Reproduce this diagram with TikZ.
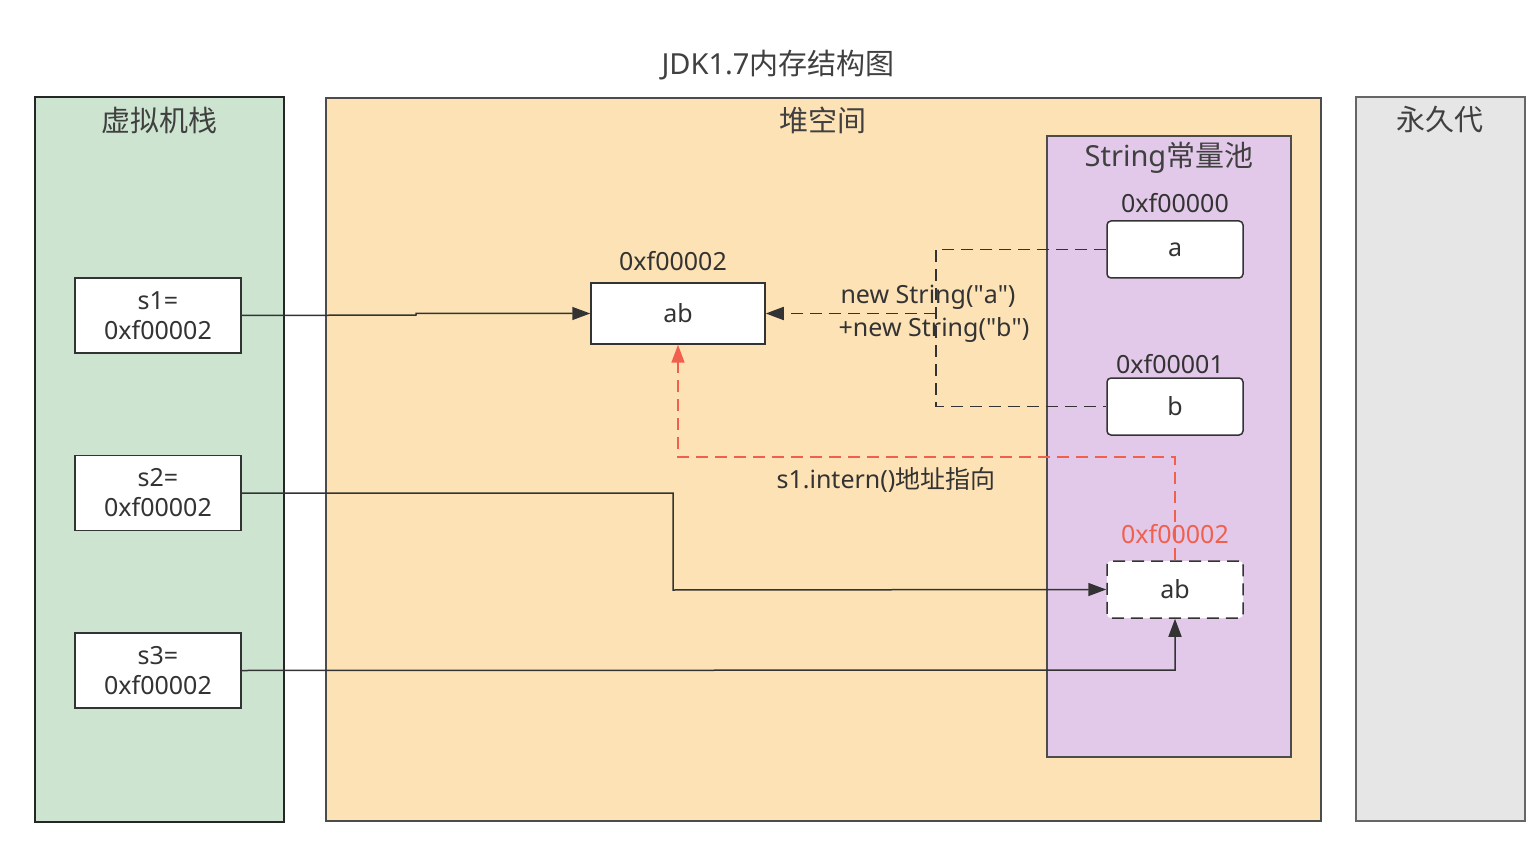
\documentclass[tikz,border=0pt]{standalone}
\usepackage{fontspec}
\setmainfont{Noto Sans}
\newfontfamily\cjk{Noto Sans CJK SC}
\usetikzlibrary{arrows.meta}
\definecolor{gfill}{HTML}{CDE5D0}
\definecolor{ofill}{HTML}{FDE2B5}
\definecolor{pfill}{HTML}{E3C9E9}
\definecolor{yfill}{HTML}{E6E6E6}
\definecolor{redl}{HTML}{F0604D}
\begin{document}
\begin{tikzpicture}[x=1pt,y=-1pt,
 lbl/.style={font=\fontsize{29}{31}\selectfont,text=black!75},
 txt/.style={font=\fontsize{25}{27}\selectfont,text=black!80},
 var/.style={draw=black!80,fill=white,line width=1.5pt,minimum width=166pt,minimum height=75pt,align=center,font=\fontsize{25}{30}\selectfont,text=black!80},
 str/.style={draw=black!80,fill=white,line width=1.5pt,rounded corners=4pt,minimum width=136pt,minimum height=57pt,font=\fontsize{25}{27}\selectfont,text=black!80},
 con/.style={line width=1.5pt,draw=black!80,-{Triangle[length=18pt,width=13pt]}},
 dsh/.style={line width=1.7pt,draw=black!80,dash pattern=on 12pt off 7pt}]
\useasboundingbox (0,0) rectangle (1540,842);
\fill[white] (0,0) rectangle (1540,842);
\node[lbl] (title) at (778,65) {JDK1.7{\cjk 内存结构图}};
\draw[fill=gfill,line width=2.8pt,draw=black!85] (35,97) rectangle (284,822);
\node[lbl] (vs) at (159,120) {\cjk 虚拟机栈};
\draw[fill=ofill,line width=1.2pt,draw=black!70] (326,98) rectangle (1321,821);
\node[lbl] (heap) at (823,120) {\cjk 堆空间};
\draw[fill=pfill,line width=1.2pt,draw=black!70] (1047,136) rectangle (1291,757);
\node[lbl] (pool) at (1169,158) {String{\cjk 常量池}};
\draw[fill=yfill,line width=1.2pt,draw=black!60] (1356,97) rectangle (1525,821);
\node[lbl] (perm) at (1440,120) {\cjk 永久代};

\node[var] (s1) at (158,315.5) {s1=\\0xf00002};
\node[var] (s2) at (158,493) {s2=\\0xf00002};
\node[var] (s3) at (158,670.5) {s3=\\0xf00002};

\node[var,minimum width=174pt,minimum height=61pt] (ab) at (678,313.5) {ab};
\node[txt] (abl) at (673,261) {0xf00002};
\node[str] (a) at (1175,249.5) {a};
\node[txt] (al) at (1175,203) {0xf00000};
\node[str] (b) at (1175,406.5) {b};
\node[txt] (bl) at (1170,364) {0xf00001};
\node[str,dash pattern=on 12pt off 7pt] (ab2) at (1175,589.5) {ab};
\node[txt,text=redl] (ab2l) at (1175,534) {0xf00002};

\draw[con] (s1.east) -- (416,315) -- (416,313.5) -- (ab.west);
\draw[con] (s2.east) -- (673,493) -- (673,590) -- (ab2.west);
\draw[con] (s3.east) -- (1175,670) -- (ab2.south);

\coordinate (c1) at (936,249.5);
\coordinate (c2) at (936,406.5);
\coordinate (c3) at (936,313.5);
\draw[dsh] (a.west) -- (c1) -- (c2) -- (b.west);
\draw[dsh,-{Triangle[length=18pt,width=13pt]}] (c3) -- (ab.east);
\node[txt] (n1) at (928,297) {new String(\textquotedbl a\textquotedbl)};
\node[txt] (n2) at (934,330) {+new String(\textquotedbl b\textquotedbl)};

\draw[line width=1.7pt,draw=redl,dash pattern=on 12pt off 7pt,-{Triangle[length=18pt,width=13pt]}] (ab2.north) -- (1175,457) -- (678,457) -- (ab.south);
\node[txt] (it) at (886,480) {s1.intern(){\cjk 地址指向}};
\end{tikzpicture}
\end{document}
